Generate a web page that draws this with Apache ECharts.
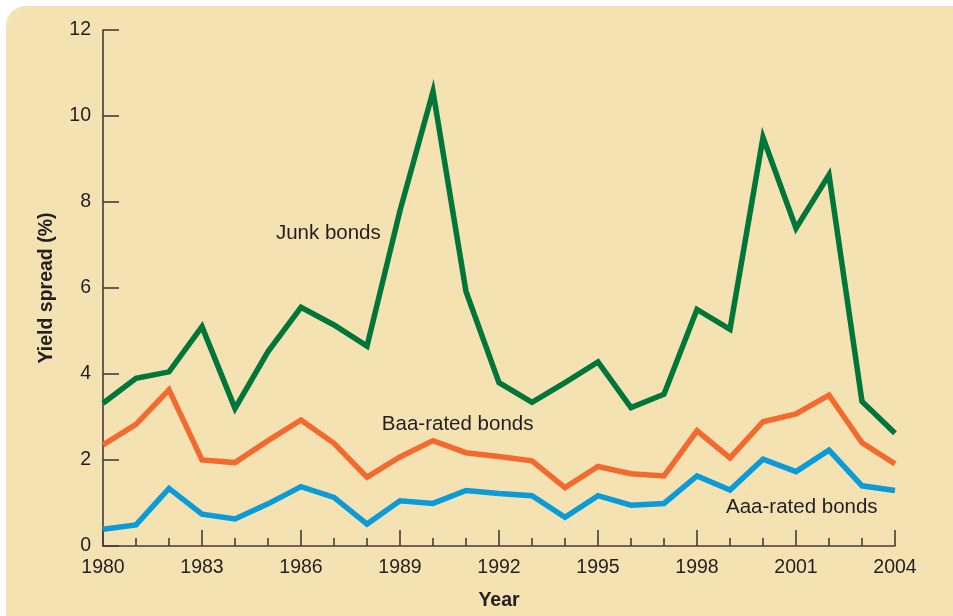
<!DOCTYPE html>
<html>
<head>
<meta charset="utf-8">
<script src="https://cdn.jsdelivr.net/npm/echarts@6/dist/echarts.min.js"></script>
<style>
  html, body { margin: 0; padding: 0; background: #fff; }
  #chart { width: 953px; height: 616px; }
</style>
</head>
<body>
<div id="chart"></div>
<script>
const years = [1980, 1981, 1982, 1983, 1984, 1985, 1986, 1987, 1988, 1989, 1990, 1991,
  1992, 1993, 1994, 1995, 1996, 1997, 1998, 1999, 2000, 2001, 2002, 2003, 2004]

const junk = [3.32, 3.90, 4.05, 5.10, 3.20, 4.52, 5.55, 5.14, 4.65, 7.8, 10.57, 5.92,
  3.80, 3.34, 3.80, 4.28, 3.22, 3.53, 5.50, 5.04, 9.50, 7.39, 8.63, 3.36, 2.62]

const baa = [2.35, 2.83, 3.63, 2.00, 1.94, 2.45, 2.93, 2.39, 1.60, 2.07, 2.45, 2.17,
  2.08, 1.98, 1.36, 1.85, 1.68, 1.63, 2.68, 2.05, 2.89, 3.07, 3.51, 2.40, 1.91]

const aaa = [0.39, 0.49, 1.34, 0.74, 0.63, 0.98, 1.38, 1.13, 0.51, 1.05, 0.99, 1.29,
  1.22, 1.17, 0.67, 1.17, 0.95, 0.99, 1.63, 1.30, 2.02, 1.73, 2.23, 1.40, 1.29]

const yTicks = [0, 2, 4, 6, 8, 10, 12]

const ink = '#231f20'
const axisInk = '#433d3a'
const font = 'Liberation Sans, Arial, Helvetica, sans-serif'

const pairs = vals => years.map((y, i) => [y, vals[i]])

// text labels placed in data coordinates
const tag = (text, x, y) => ({
  coord: [x, y],
  symbol: 'circle',
  symbolSize: 0,
  label: {
    show: true,
    formatter: text,
    position: 'inside',
    align: 'left',
    verticalAlign: 'middle',
    color: ink,
    fontSize: 20.5,
    fontFamily: font
  }
})

const lineSeries = (name, vals, color, label) => ({
  name,
  type: 'line',
  data: pairs(vals),
  showSymbol: false,
  symbol: 'none',
  lineStyle: { color, width: 5.5, join: 'miter', miterLimit: 10 },
  z: 3,
  markPoint: {
    silent: true,
    data: [label]
  }
})

var chart = echarts.init(document.getElementById('chart'), null, { renderer: 'canvas' })

var option = {
  animation: false,
  backgroundColor: '#fff',
  graphic: [
    {
      type: 'rect',
      z: -10,
      shape: { x: 6, y: 6, width: 980, height: 640, r: [20, 0, 0, 0] },
      style: { fill: '#f5e2b3' }
    }
  ],
  grid: { left: 103, right: 58, top: 30, bottom: 70, containLabel: false },
  xAxis: {
    type: 'value',
    min: 1980,
    max: 2004,
    interval: 3,
    name: 'Year',
    nameLocation: 'middle',
    nameGap: 45,
    nameTextStyle: { color: ink, fontSize: 19.5, fontWeight: 'bold', fontFamily: font },
    axisLine: { show: true, lineStyle: { color: axisInk, width: 1.6 } },
    axisTick: { show: true, inside: true, length: 16, lineStyle: { color: axisInk, width: 1.6 } },
    minorTick: { show: true, splitNumber: 3, length: 8, lineStyle: { color: axisInk, width: 1.6 } },
    splitLine: { show: false },
    minorSplitLine: { show: false },
    axisLabel: {
      color: ink, fontSize: 19.5, fontFamily: font, margin: 12,
      formatter: v => String(v)
    }
  },
  yAxis: {
    type: 'value',
    min: yTicks[0],
    max: yTicks[yTicks.length - 1],
    interval: 2,
    name: 'Yield spread (%)',
    nameLocation: 'middle',
    nameGap: 46,
    nameTextStyle: { color: ink, fontSize: 19.5, fontWeight: 'bold', fontFamily: font },
    axisLine: { show: true, lineStyle: { color: axisInk, width: 1.6 } },
    axisTick: { show: true, inside: true, length: 16, lineStyle: { color: axisInk, width: 1.6 } },
    splitLine: { show: false },
    axisLabel: { color: ink, fontSize: 19.5, fontFamily: font, margin: 12 }
  },
  series: [
    lineSeries('Aaa-rated bonds', aaa, '#0a9bd8', tag('Aaa-rated bonds', 1998.88, 0.90)),
    lineSeries('Baa-rated bonds', baa, '#f26a2e', tag('Baa-rated bonds', 1988.45, 2.84)),
    lineSeries('Junk bonds', junk, '#00763a', tag('Junk bonds', 1985.24, 7.28))
  ]
}

option && chart.setOption(option)
window.addEventListener('resize', function() {
  chart?.resize()
})
</script>
</body>
</html>
